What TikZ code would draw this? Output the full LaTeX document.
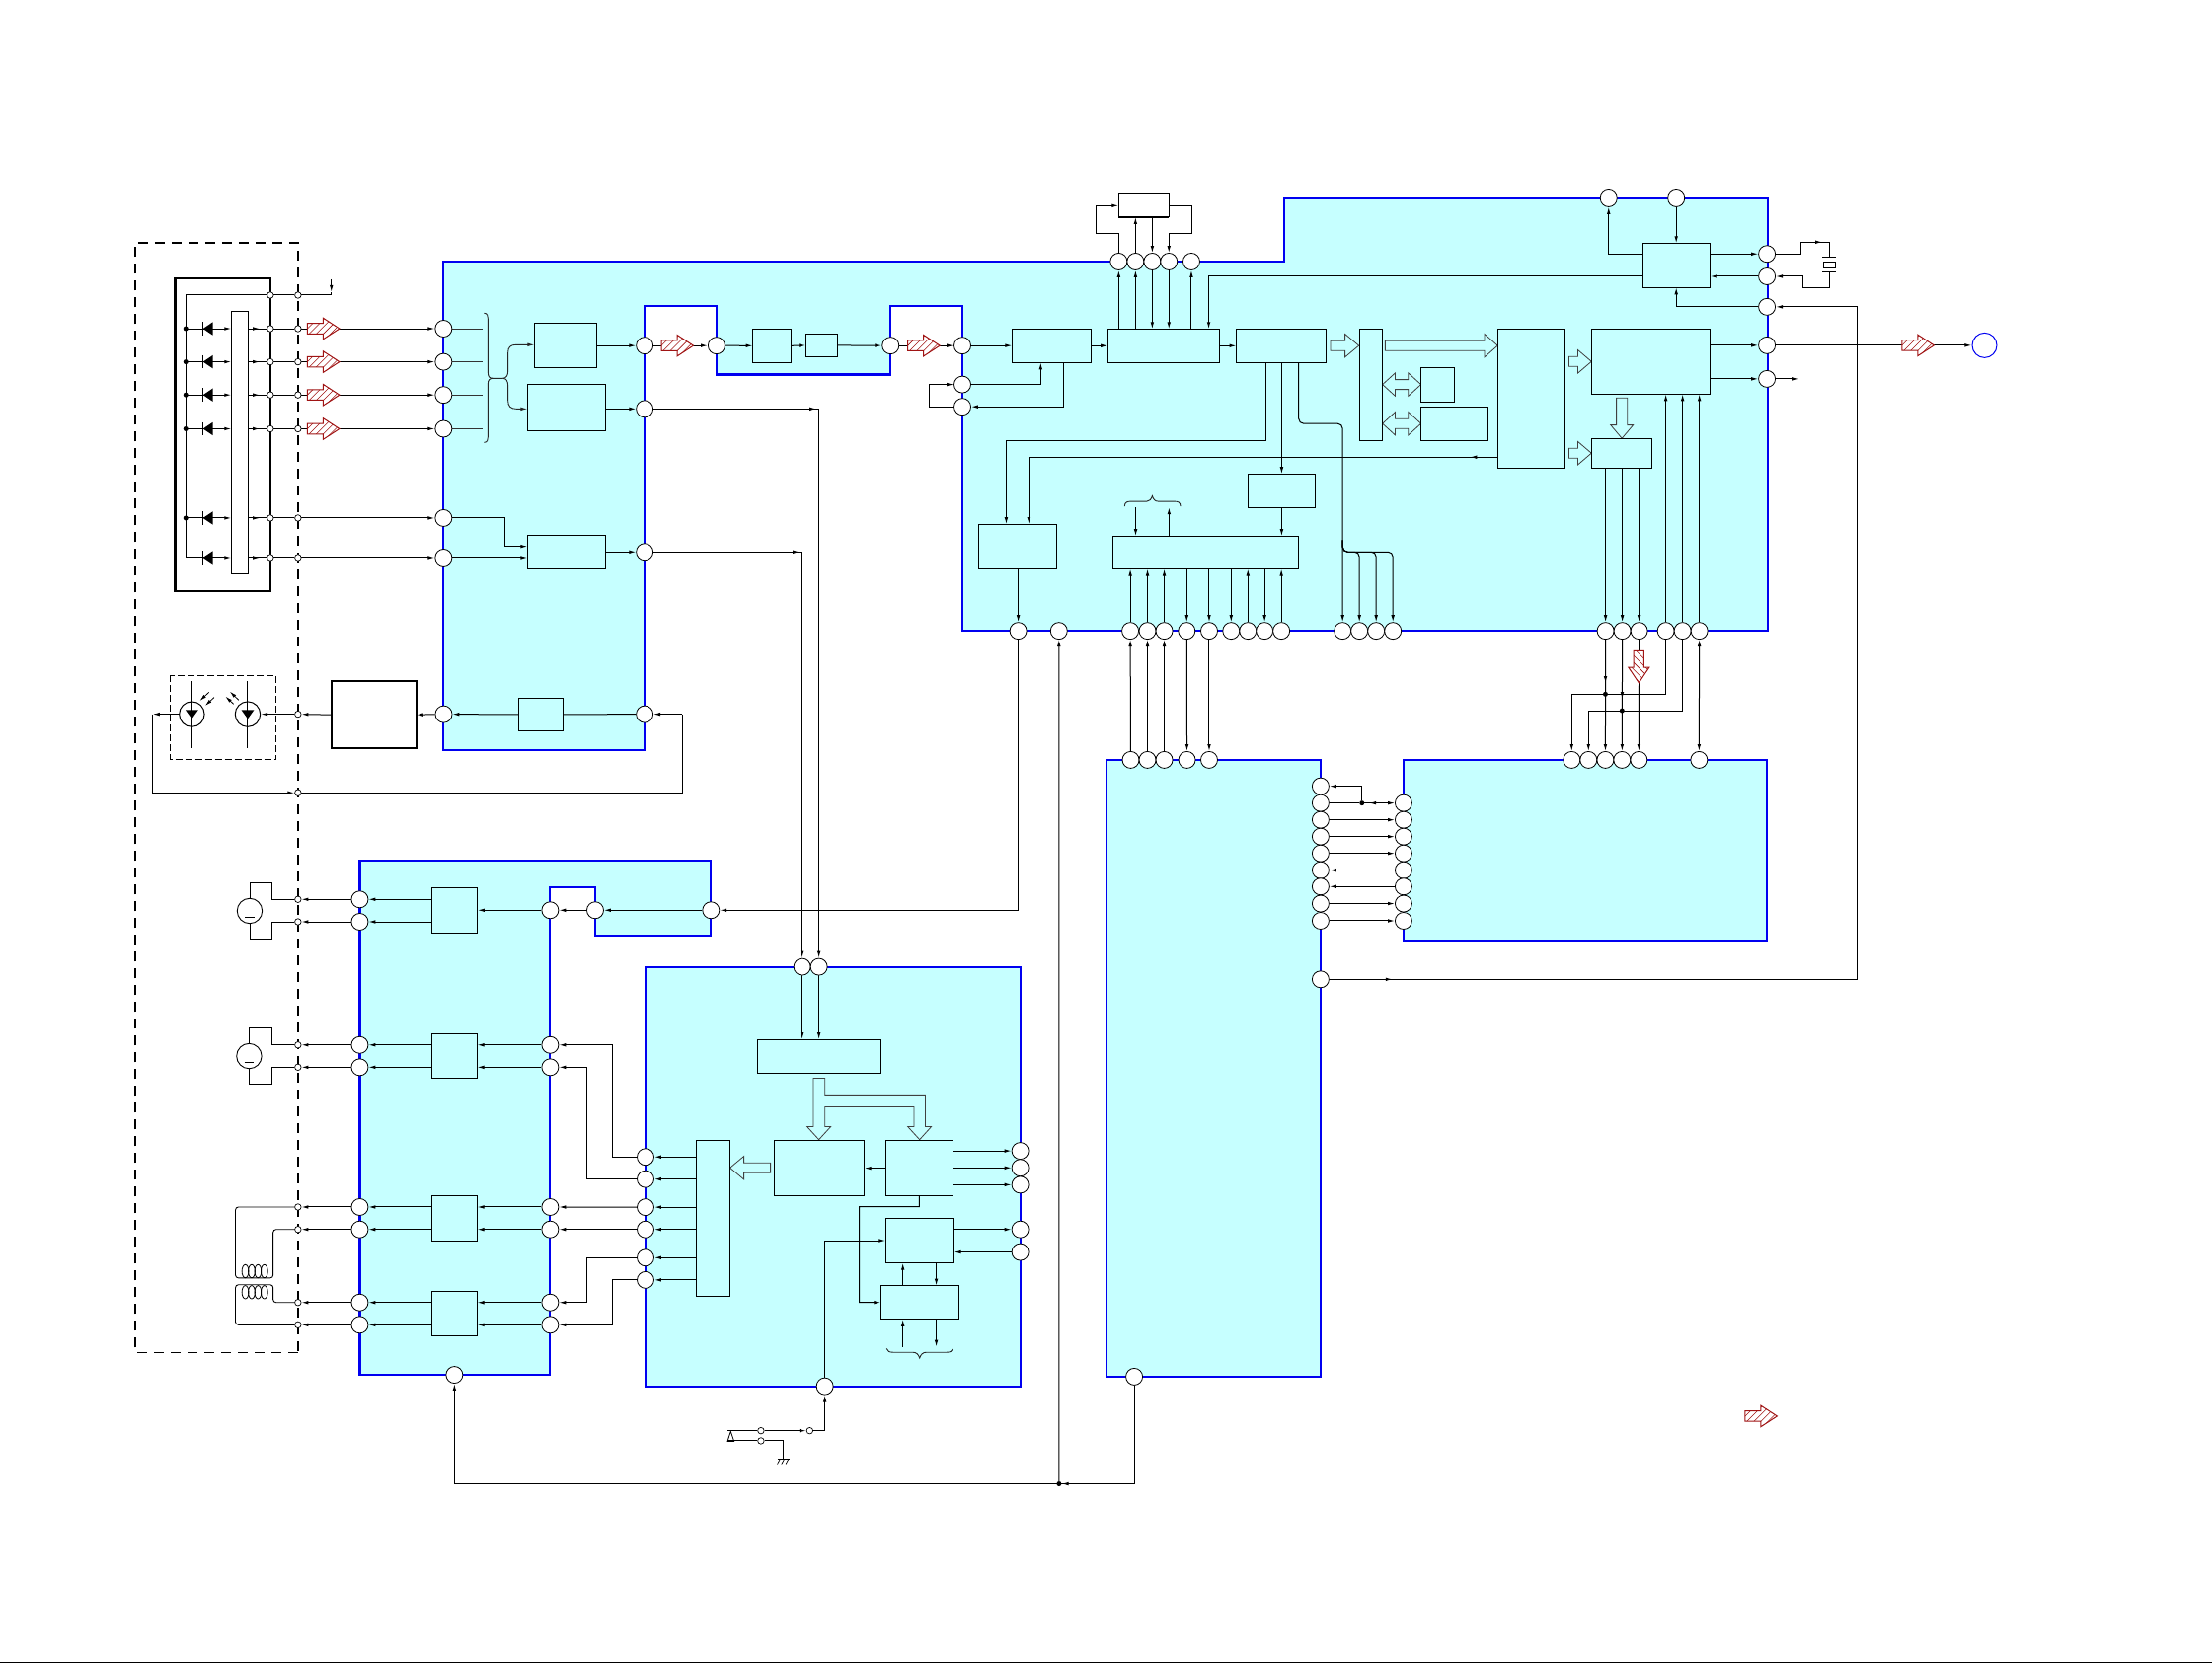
\documentclass[tikz,border=0pt]{standalone}
\usetikzlibrary{arrows.meta,decorations.markings,calc}
\pgfdeclarelayer{fg}\pgfsetlayers{main,fg}
\definecolor{cy}{HTML}{C6FFFF}
\definecolor{bl}{HTML}{0000F0}
\definecolor{rd}{HTML}{A01414}
\tikzset{
 x=1.4292pt,y=-1.4292pt,
 >={Latex[length=7pt,width=3.6pt]},
 wire/.style={line width=1pt,black},
 midarr/.style={postaction={decorate,decoration={markings,mark=at position #1 with {\arrow{>}}}}},
 pin/.style={circle,draw,fill=white,minimum size=17pt,inner sep=0pt,line width=.8pt},
 spin/.style={circle,draw,fill=white,minimum size=6.5pt,inner sep=0pt,line width=.7pt},
 dotn/.style={circle,fill=black,minimum size=5pt,inner sep=0pt},
 bx/.style={rectangle,draw,fill=cy,line width=1pt,inner sep=0pt,outer sep=0pt},
 wbx/.style={bx,fill=white},
 region/.style={draw=bl,fill=cy,line width=2.1pt,line join=miter},
 fat/.style={draw=black!75,fill=cy,line width=.8pt,line join=miter},
 dashbox/.style={line width=1.5pt,dash pattern=on 10pt off 7pt}
}
\newcommand\redR[2]{%
\begin{scope}[shift={(#1,#2)}]
\begin{scope}
\clip (0,-3.7)--(11.2,-3.7)--(11.2,-7.5)--(22.7,0)--(11.2,7.5)--(11.2,3.7)--(0,3.7)--cycle;
\fill[white] (-1,-9) rectangle (24,9);
\foreach \k in {-8,-3,...,22} \draw[rd,line width=.55pt] (\k,8)--(\k+16,-8);
\end{scope}
\draw[rd,line width=1pt,line join=miter] (0,-3.7)--(11.2,-3.7)--(11.2,-7.5)--(22.7,0)--(11.2,7.5)--(11.2,3.7)--(0,3.7)--cycle;
\end{scope}}
\newcommand\redD[2]{%
\begin{scope}[shift={(#1,#2)}]
\begin{scope}
\clip (-3.6,0)--(3.6,0)--(3.6,11.7)--(7.4,11.7)--(0,22.7)--(-7.4,11.7)--(-3.6,11.7)--(-3.6,0)--cycle;
\fill[white] (-9,-1) rectangle (9,24);
\foreach \k in {-8,-3,...,22} \draw[rd,line width=.55pt] (-8,\k-8)--(8,\k+8);
\end{scope}
\draw[rd,line width=1pt,line join=miter] (-3.6,0)--(3.6,0)--(3.6,11.7)--(7.4,11.7)--(0,22.7)--(-7.4,11.7)--(-3.6,11.7)--cycle;
\end{scope}}
% x1 head-start tip y
\newcommand\fatR[4]{\draw[fat] (#1,#4-3.5)--(#2,#4-3.5)--(#2,#4-8.2)--(#3,#4)--(#2,#4+8.2)--(#2,#4+3.5)--(#1,#4+3.5)--cycle;}
\newcommand\fatLR[3]{\draw[fat] (#1,#3)--(#1+9,#3-8.2)--(#1+9,#3-3.5)--(#2-9,#3-3.5)--(#2-9,#3-8.2)--(#2,#3)--(#2-9,#3+8.2)--(#2-9,#3+3.5)--(#1+9,#3+3.5)--(#1+9,#3+8.2)--cycle;}
\begin{document}
\begin{tikzpicture}
\useasboundingbox (0,0) rectangle (1568,1179);
\fill[white] (0,0) rectangle (1568,1179);
\draw[line width=1.5pt] (0,1178.7)--(1568,1178.7);
% regions
\draw[region] (314.4,185.2)--(910,185.2)--(910,140.8)--(1253,140.8)--(1253,447.2)--(682.2,447.2)--(682.2,217)--(631.3,217)--(631.3,265.5)--(508,265.5)--(508,217)--(457,217)--(457,532)--(314.4,532)--cycle;
\draw[region] (255,609.9)--(504,609.9)--(504,663.5)--(421.9,663.5)--(421.9,628.8)--(390,628.8)--(390,974.7)--(255,974.7)--cycle;
\draw[region] (457.6,685.4) rectangle (723.7,983.1);
\draw[region] (784.5,538.7) rectangle (936.1,976);
\draw[region] (994.9,538.7) rectangle (1252.6,667);
% dashed outline
\draw[dashbox] (211.2,959)--(96,959)--(96,172.1)--(211.2,172.1)--cycle;
\draw[line width=2.1pt] (124.2,197.3) rectangle (191.6,419.1);
\draw[line width=.9pt,dash pattern=on 7pt off 3pt] (120.8,478.8) rectangle (195.8,538.3);

\begin{pgfonlayer}{fg}
\foreach \n/\xa/\ya/\xb/\yb in {
 Ba/378.8/229/423/260.5,Bb/373.9/272.4/429.3/305.5,Bc/373.9/379.7/429.3/403.5,Bq/367.6/495/399.4/518,
 Bca/533.6/233.2/560.8/257,Bcb/571.2/236.7/593.7/253,Bda/717.4/233.2/773.3/257,Bdb/785.2/233.2/864.6/257,
 Bdc/876.4/233.2/939.9/257,Bdd/963.9/233.2/980/312.5,Bma/1007.3/260.5/1031.1/285.2,Bmb/1007.3/288.4/1054.9/312.5,
 Be/1061.6/233.2/1109.5/332,Bf/1128.1/233.2/1212.3/279.4,Bg/1128.1/310.8/1170.9/332,Bh/1164.8/172.3/1212.3/203.8,
 Bj/884.6/336/932.4/359.8,Bk/788.9/380.1/920.5/403.4,Bi/693.6/371.7/749/403.4,
 Bra/306.2/629.2/338.6/661.7,Brb/306.1/732.8/338.3/764.3,Brc/306.1/847.8/338.3/879.7,Brd/306.1/915.4/338.3/946.9,
 Bs/536.9/736.9/624.6/760.9,Bt/493.5/808.4/517.5/919.1,Bu/548.8/808.4/612.7/847.9,Bv/627.8/808.4/675.6/847.9,
 Bw/627.8/863.6/676.3/895.4,Bx/624.3/911.4/679.8/935.3}{
 \pgfmathsetmacro\ww{(\xb-\xa)*1.4292}\pgfmathsetmacro\hh{(\yb-\ya)*1.4292}
 \node[bx,minimum width=\ww pt,minimum height=\hh pt] (\n) at ({(\xa+\xb)/2},{(\ya+\yb)/2}) {};
}
\foreach \n/\xa/\ya/\xb/\yb/\lw in {
 Bbar/163.9/220.6/175.9/407/1,Bp/235.1/482.8/295.1/530.6/2.1,Btop/793/137.6/828.6/153.9/1}{
 \pgfmathsetmacro\ww{(\xb-\xa)*1.4292}\pgfmathsetmacro\hh{(\yb-\ya)*1.4292}
 \node[wbx,line width=\lw pt,minimum width=\ww pt,minimum height=\hh pt] (\n) at ({(\xa+\xb)/2},{(\ya+\yb)/2}) {};
}
\foreach \n/\xx/\yy in {
 o1/457/245,o2/457/289.9,o3/457/391.3,o4/457/506.3,pq/314.5/506.3,
 n1/507.9/245,n2/631.3/245,n3/682.2/245,n4/682.2/272.6,n5/682.2/288.4,
 t1/793/185.4,t2/804.9/185.4,t3/816.8/185.4,t4/828.6/185.4,t5/844.5/185.4,
 tra/1140.3/140.6,trb/1188.2/140.6,
 rra/1252.5/180,rrb/1252.5/195.9,rrc/1252.5/217.5,rrd/1252.5/244.8,rre/1252.5/268.6,
 qa/721.8/447.2,qb/750.6/447.2,qc/801.2/447.2,qd/813.4/447.2,qe/825.3/447.2,qf/841.2/447.2,qg/857.1/447.2,
 qh/872.7/447.2,qi/884.6/447.2,qj/896.4/447.2,qk/908.3/447.2,ql/951.7/447.2,qm/963.6/447.2,qn/975.5/447.2,qo/987.4/447.2,
 qp/1138.1/447.2,qq/1150/447.2,qr/1161.9/447.2,qs/1180.8/447.2,qt/1192.7/447.2,qu/1204.6/447.2,
 ma/801.5/538.7,mb/813.4/538.7,mc/825.3/538.7,md/841.4/538.7,me/857.1/538.7,
 na/1114.1/538.7,nb/1126/538.7,nc/1138/538.7,nd/1149.8/538.7,ne/1161.7/538.7,nf/1204.4/538.7,
 mra/936.1/557.4,mrb/936.1/569.3,mrc/936.1/581.2,mrd/936.1/593.1,mre/936.1/605,mrf/936.1/616.9,mrg/936.1/628.5,mrh/936.1/640.6,mri/936.1/652.8,
 nlb/994.9/569.3,nlc/994.9/581.2,nld/994.9/593.1,nle/994.9/605,nlf/994.9/616.9,nlg/994.9/628.5,nlh/994.9/640.6,nli/994.9/652.8,
 mrj/936.1/694.3,mbot/804/976,
 ga/255/637.6,gb/255/653.5,gc/390/645.3,gd/421.9/645.3,ge/504/645.3,
 gf/255/740.8,gg/255/756.6,gh/390/740.8,gi/390/756.6,
 gj/255/855.7,gk/255/871.6,gl/390/855.7,gm/390/871.6,
 gn/255/923.4,go/255/939.2,gp/390/923.4,gq/390/939.2,gbot/322.1/974.7,
 ha/568.6/685.4,hb/580.5/685.4,
 hc/457.6/820.2,hd/457.6/835.9,he/457.6/855.8,hf/457.6/871.6,hg/457.6/891.6,hh/457.6/907.4,
 hi/723.2/815.9,hj/723.2/827.9,hk/723.2/839.9,hl/723.2/871.6,hm/723.2/887.6,hn/584.7/982.8}{
 \node[pin] (\n) at (\xx,\yy) {};
}
\foreach \n/\xx/\yy in {
 sz/191.6/209.2,tz/211.2/209.2,sledin/211.2/506.3,sback/211.2/562,
 sga/211.2/637.6,sgb/211.2/653.5,sgc/211.2/740.8,sgd/211.2/756.6,
 sge/211.2/855.7,sgf/211.2/871.6,sgg/211.2/923.4,sgh/211.2/939.2,
 swa/539.4/1014.3,swb/539.4/1021.5,swc/574/1014.3}{
 \node[spin] (\n) at (\xx,\yy) {};
}
\node[pin,draw=bl,minimum size=25pt,line width=1pt] (outc) at (1406.7,244.8) {};
\node[dotn] (jun) at (750.7,1052) {};
\node[dotn] (dna) at (1138,492.1) {};
\node[dotn] (dnb) at (1149.8,503.8) {};
\node[dotn] (dnc) at (965.4,569.3) {};
\node[circle,draw,line width=1pt,minimum size=25.4pt,inner sep=0pt] (leda) at (136,506.3) {};
\node[circle,draw,line width=1pt,minimum size=25.4pt,inner sep=0pt] (ledb) at (175.6,506.3) {};
\node[circle,draw,line width=.9pt,minimum size=25.4pt,inner sep=0pt,fill=white] (mota) at (177,645.8) {};
\node[circle,draw,line width=.9pt,minimum size=25.4pt,inner sep=0pt,fill=white] (motb) at (176.6,748.7) {};
\end{pgfonlayer}

% sensor rows
\foreach \r/\yy in {a/233,b/256.5,c/280,d/304,e/367.3,f/395.3}{
 \begin{pgfonlayer}{fg}
 \node[spin] (s\r) at (191.6,\yy) {};
 \node[spin] (u\r) at (211.2,\yy) {};
 \node[pin] (p\r) at (314.4,\yy) {};
 \end{pgfonlayer}
 \coordinate (d\r) at (131.7,\yy);
 \draw[wire,->] (d\r) -- (d\r -| Bbar.west);
 \draw[wire,midarr=.62] (d\r -| Bbar.east) -- (s\r);
 \draw[wire] (s\r) -- (u\r);
 \draw[wire,->] (u\r) -- (p\r);
 \draw[line width=1pt] (143.9,\yy-4.7) -- (143.9,\yy+4.7);
 \fill (143.9,\yy) -- (150.9,\yy-4.7) -- (150.9,\yy+4.7) -- cycle;
}
\begin{pgfonlayer}{fg}
\foreach \r in {a,b,c,d,e}{\node[dotn] at (d\r) {};}
\end{pgfonlayer}
\draw[wire] (sz) -- (131.7,209.2) -- (df);
\draw[wire] (sz) -- (tz);
\coordinate (tza) at (234.9,209.2);\coordinate (tzb) at (234.9,198);\coordinate (tzc) at (234.9,207);
\draw[wire] (tz) -- (tza);
\draw[wire,->] (tzb) -- (tzc);
\draw[wire] (tzc) -- (tza);
\foreach \r/\yy in {a/233,b/256.5,c/280,d/304}{
 \coordinate (br\r) at (342,\yy);
 \draw[line width=.9pt,black!80] (p\r) -- (br\r);
}
% brace
\draw[line width=.9pt,black!85] (343.1,222) .. controls (345.5,222) and (345.9,224) .. (345.9,226) -- (345.9,264) .. controls (345.9,267) and (347,268.2) .. (349.3,268.2);
\draw[line width=.9pt,black!85] (343.1,313.7) .. controls (345.5,313.7) and (345.9,311.7) .. (345.9,309.7) -- (345.9,272) .. controls (345.9,269.5) and (347,268.2) .. (349.3,268.2) -- (356.4,268.2);
\draw[line width=.9pt,black!85,->] (356.4,268.2) .. controls (359,268.2) and (360.1,266) .. (360.1,263) -- (360.1,250) .. controls (360.1,246) and (362,244.4) .. (366,244.4) -- (Ba.west |- 0,244.4);
\draw[line width=.9pt,black!85,->] (356.4,268.2) .. controls (359,268.2) and (360.1,270.5) .. (360.1,273.5) -- (360.1,284) .. controls (360.1,288) and (362,289.9) .. (366,289.9) -- (Bb.west |- 0,289.9);
\draw[wire,->] (Ba.east |- o1) -- (o1);
\draw[wire,->] (Bb.east |- o2) -- (o2);
\draw[wire,->] (Bc.east |- o3) -- (o3);
\coordinate (bend) at (358.1,387.4);
\draw[wire,->] (pe) -| (bend) -- (Bc.west |- bend);
\draw[wire,->] (pf) -- (Bc.west |- pf);
% main chain
\draw[wire,->] (o1) -- (n1);
\draw[wire,->] (n1) -- (Bca.west);
\draw[wire,->] (Bca.east) -- (Bcb.west);
\draw[wire,->] (Bcb.east) -- (n2);
\draw[wire,->] (n2) -- (n3);
\draw[wire,->] (n3) -- (Bda.west |- n3);
\draw[wire,->] (Bda.east) -- (Bdb.west);
\draw[wire,->] (Bdb.east) -- (Bdc.west);
\coordinate (dfa) at (737.7,257);\coordinate (dfb) at (754,257);
\draw[wire,->] (n4) -| (dfa);
\draw[wire,->] (dfb) |- (n5);
\coordinate (lp) at (658.7,280);
\draw[wire,->] (n5) -| (lp) |- (n4);
% top box
\draw[line width=2.2pt] (Btop.north west) -- (Btop.north east);
\draw[line width=2.2pt] (Btop.south west) -- (Btop.south east);
\coordinate (ka) at (777.1,165.5);\coordinate (kb) at (844.9,165.5);
\draw[wire,->] (t1) |- (ka) |- (Btop.west);
\draw[wire,->] (t2) -- (t2 |- Btop.south);
\draw[wire,->] (t3 |- Btop.south) -- (t3);
\draw[wire,->] (Btop.east) -| (kb) -| (t4);
\foreach \p in {t1,t2,t5}{\draw[wire,->] (\p |- Bdb.north) -- (\p);}
\foreach \p in {t3,t4}{\draw[wire,->] (\p) -- (\p |- Bdb.north);}
% H block
\coordinate (hx) at (856.8,233.2);
\draw[wire,->] (Bh.west |- rra) -| (tra);
\draw[wire,->] (trb) -- (trb |- Bh.north);
\draw[wire,->] (Bh.east |- rra) -- (rra);
\draw[wire,->] (rrb) -- (rrb -| Bh.east);
\draw[wire,->] (Bh.west |- rrb) -| (hx);
\draw[wire,->] (rrc) -| (trb |- Bh.south);
% crystal
\coordinate (xa) at (1296.8,182.6);\coordinate (xb) at (1296.8,192.8);
\draw[wire,midarr=.72] (rra) -| (1276.6,171.6) -- (xa |- 0,171.6) -- (xa);
\draw[wire,->] (xb) -- (xb |- 0,203.8) -- (1278.2,203.8) -- (1278.2,195.9) -- (rrb);
\draw[line width=1pt] (1291.7,182.6)--(1301.3,182.6);
\draw[line width=1pt] (1291.7,192.8)--(1301.3,192.8);
\draw[line width=.9pt] (1292.6,185.6) rectangle (1301,189.8);
% long return
\draw[wire,->,midarr=64pt] (mrj) -- (1316.4,694.3) -- (1316.4,217.5) -- (rrc);
% outputs
\draw[wire,->] (Bf.east |- rrd) -- (rrd);
\draw[wire,->] (rrd) -- (outc);
\draw[wire,->] (Bf.east |- rre) -- (rre);
\coordinate (rrx) at (1275.6,268.6);
\draw[wire,->] (rre) -- (rrx);
% D3 branches
\coordinate (aa) at (897.5,257);\coordinate (ab) at (713.3,371.7);
\draw[wire,->] (aa) -- (897.5,312.2) -- (713.3,312.2) -- (ab);
\coordinate (ac) at (1061.6,324.1);\coordinate (ad) at (729.3,371.7);
\draw[wire,->,midarr=28pt] (ac) -- (729.3,324.1) -- (ad);
\draw[wire,->] (Bj.north |- Bdc.south) -- (Bj.north);
\draw[wire,->] (Bj.south) -- (Bj.south |- Bk.north);
\coordinate (ae) at (920.6,257);
\draw[wire,->,rounded corners=5pt] (ae) -- (920.6,300.3) -- (951.7,300.3) -- (ql);
\coordinate (af) at (951.7,383);
\foreach \p in {qm,qn,qo}{\draw[wire,->,rounded corners=5pt] (af) |- (\p |- 0,391.3) -- (\p);}
% brace above K
\draw[line width=.9pt,black!85] (797.2,359) .. controls (797.2,356) and (799,355.5) .. (802,355.5) -- (813,355.5) .. controls (815,355.5) and (816,354) .. (816.8,351.6) .. controls (817.6,354) and (818.6,355.5) .. (821,355.5) -- (832,355.5) .. controls (835,355.5) and (836.8,356) .. (836.8,359);
\coordinate (ba) at (805,359.8);\coordinate (bb) at (828.7,359.8);
\draw[wire,->] (ba) -- (ba |- Bk.north);
\draw[wire,->] (bb |- Bk.north) -- (bb);
\draw[wire,->] (Bi.south -| qa) -- (qa);
\foreach \p in {qc,qd,qe,qi,qk}{\draw[wire,->] (\p) -- (\p |- Bk.south);}
\foreach \p in {qf,qg,qh,qj}{\draw[wire,->] (\p |- Bk.south) -- (\p);}
\foreach \p in {qp,qq,qr}{\draw[wire,->] (\p |- Bg.south) -- (\p);}
\foreach \p in {qs,qt,qu}{\draw[wire,->] (\p) -- (\p |- Bf.south);}
% links lower
\draw[wire,->] (ma) -- (qc);
\draw[wire,->] (mb) -- (qd);
\draw[wire,->] (mc) -- (qe);
\draw[wire,->] (qf) -- (md);
\draw[wire,->] (qg) -- (me);
\draw[wire,->,midarr=44pt] (qp) -- (nc);
\draw[wire,->,midarr=60pt] (qq) -- (nd);
\draw[wire,->] (qr) -- (ne);
\draw[wire,<->] (qu) -- (nf);
\draw[wire,->] (qs) -- (qs |- dna) -- (na |- dna) -- (na);
\draw[wire,->] (qt) -- (qt |- dnb) -- (nb |- dnb) -- (nb);
% M-N
\draw[wire] (mrb) -- (dnc);
\draw[wire,<-,midarr=.85] (nlb) -- (dnc);
\draw[wire,->] (dnc) |- (mra);
\foreach \a/\b in {mrc/nlc,mrd/nld,mre/nle,mrh/nlh,mri/nli}{\draw[wire,->] (\a) -- (\b);}
\foreach \a/\b in {nlf/mrf,nlg/mrg}{\draw[wire,->] (\a) -- (\b);}
% bottom bus
\draw[wire,->] (mbot) |- (jun.center) -- (gbot |- jun) -- (gbot);
\draw[wire,->] (jun) -- (qb);
\coordinate (juh) at (757,1052);
\draw[wire,->] (juh) -- (jun);
% to driver 1
\draw[wire,->] (qa) |- (ge);
\draw[wire,->] (ge) -- (gd);
\draw[wire,->] (gd) -- (gc);
\draw[wire,->] (gc) -- (gc -| Bra.east);
\draw[wire,->] (Bra.west |- ga) -- (ga);
\draw[wire,->] (Bra.west |- gb) -- (gb);
\draw[wire,->] (ga) -- (sga);
\draw[wire,->] (gb) -- (sgb);
\foreach \a/\b/\c in {gf/gh/Brb,gg/gi/Brb,gj/gl/Brc,gk/gm/Brc,gn/gp/Brd,go/gq/Brd}{
 \draw[wire,->] (\b) -- (\b -| \c.east);
 \draw[wire,->] (\c.west |- \a) -- (\a);
}
\foreach \a/\b in {gf/sgc,gg/sgd,gj/sge,gk/sgf,gn/sgg,go/sgh}{\draw[wire,->] (\a) -- (\b);}
% to driver inputs
\coordinate (cxa) at (434,800);\coordinate (cxb) at (416,800);
\draw[wire,->] (hc) -| (cxa |- gh) -- (gh);
\draw[wire,->] (hd) -| (cxb |- gi) -- (gi);
\draw[wire,->] (he) -- (gl);
\draw[wire,->] (hf) -- (gm);
\draw[wire,->] (hg) -| (cxb |- gp) -- (gp);
\draw[wire,->] (hh) -| (cxa |- gq) -- (gq);
\foreach \p in {hc,hd,he,hf,hg,hh}{\draw[wire,->] (Bt.west |- \p) -- (\p);}
% DSP to block3
\draw[wire,->,midarr=148pt] (o3) -| (ha);
\draw[wire,->,midarr=165pt] (o2) -| (hb);
\draw[wire,->] (ha) -- (ha |- Bs.north);
\draw[wire,->] (hb) -- (hb |- Bs.north);
\draw[wire,->] (Bv.west) -- (Bu.east);
\foreach \p in {hi,hj,hk}{\draw[wire,->] (Bv.east |- \p) -- (\p);}
\draw[wire,->] (Bw.east |- hl) -- (hl);
\draw[wire,->] (hm) -- (hm -| Bw.east);
\draw[wire,->] (Bv.south) -- ++(0,7.5) -- (609.2,855.4) -- (609.2,923.35) -- (Bx.west);
\draw[wire,->] (hn) |- (Bw.west);
\coordinate (cwa) at (640,900);\coordinate (cwb) at (663.7,900);
\draw[wire,->] (cwa |- Bx.north) -- (cwa |- Bw.south);
\draw[wire,->] (cwb |- Bw.south) -- (cwb |- Bx.north);
\coordinate (cwc) at (640,954.8);\coordinate (cwd) at (663.7,954.8);
\draw[wire,->] (cwc) -- (cwc |- Bx.south);
\draw[wire,->] (cwd |- Bx.south) -- (cwd);
\draw[line width=.9pt,black!85] (628.5,956.1) .. controls (629,958) and (630.5,958.7) .. (633,958.7) -- (647,958.7) .. controls (649.5,958.7) and (651,960) .. (651.9,962.8) .. controls (652.8,960) and (654.3,958.7) .. (656.8,958.7) -- (671,958.7) .. controls (673.5,958.7) and (675,958) .. (675.6,956.1);
% switch
\coordinate (swl) at (515.7,1014.3);\coordinate (swm) at (515.7,1021.5);\coordinate (gnd) at (555.1,1034.3);
\draw[wire] (swl) -- (swa);
\draw[wire] (swm) -- (swb);
\draw[wire,->] (swa) -- (swc);
\draw[wire,->] (swc) -| (hn);
\draw[wire] (swb) -| (gnd);
\draw[line width=.8pt] (515.7,1021.8)--(518,1014.8)--(520.3,1021.8)--cycle;
\draw[line width=.9pt] (551.3,1034.3)--(559.7,1034.3);
\foreach \k in {553,556,559}{\draw[line width=.7pt] (\k,1034.3)--(\k-2,1038);}
% IR link
\coordinate (cr) at (483.8,506.3);\coordinate (crb) at (483.8,562);\coordinate (cl) at (108.3,506.3);\coordinate (clb) at (108.3,562);
\draw[wire,->] (cr) -- (o4);
\draw[wire] (o4) -- (Bq.east);
\draw[wire,->] (Bq.west) -- (pq);
\draw[wire,->] (pq) -- (Bp.east);
\draw[wire,->] (Bp.west) -- (sledin);
\draw[wire,->] (sledin) -- (ledb);
\draw[wire,->] (leda) -- (cl);
\draw[wire,->] (cl) -- (clb) -- (sback);
\draw[wire] (sback) -- (crb) -- (cr);
\foreach \xx in {136,175.6}{
 \draw[line width=1pt] (\xx,482.8)--(\xx,530.1);
 \draw[line width=1pt] (\xx-5,509.6)--(\xx+5,509.6);
 \fill (\xx-4.5,503.3)--(\xx+4.5,503.3)--(\xx,509.6)--cycle;
}
\draw[line width=.8pt,->] (148.2,490.7)--(141.6,496.8);
\draw[line width=.8pt,->] (151.8,494.4)--(145.4,500.3);
\draw[line width=.8pt,->] (165.6,499.1)--(159.8,493.7);
\draw[line width=.8pt,->] (169.2,496.3)--(162.9,490.2);
% motors
\draw[line width=.9pt] (mota.north) -- (177,625.7) -- (193,625.7) -- (193,637.6) -- (sga);
\draw[line width=.9pt] (mota.south) -- (177,665.8) -- (193,665.8) -- (193,653.5) -- (sgb);
\draw[line width=.9pt] (motb.north) -- (176.6,728.9) -- (192.6,728.9) -- (192.6,740.8) -- (sgc);
\draw[line width=.9pt] (motb.south) -- (176.6,768.5) -- (192.6,768.5) -- (192.6,756.6) -- (sgd);
\begin{pgfonlayer}{fg}
\draw[line width=.9pt] (173.7,650.2)--(180.3,650.2);
\draw[line width=.9pt] (173.3,753.1)--(179.9,753.1);
\end{pgfonlayer}
% coils
\draw[line width=.9pt,rounded corners=3pt] (sge) -- (166.9,855.7) -- (166.9,906) -- (193.6,906) -- (193.6,871.6) -- (sgf);
\draw[line width=.9pt,rounded corners=3pt] (sgh) -- (166.9,939.2) -- (166.9,910.8) -- (193.6,910.8) -- (193.6,923.4) -- (sgg);
\foreach \xx in {173.9,178.4,182.9,187.4}{
 \draw[line width=.8pt] (\xx,901.2) ellipse [x radius=2.4,y radius=4.7];
 \draw[line width=.8pt] (\xx,916.1) ellipse [x radius=2.4,y radius=4.7];
}
% fat arrows
\fatR{943.2}{953.4}{963.2}{245}
\fatR{981.9}{1052.3}{1061.6}{245}
\fatR{1112.1}{1118.5}{1128.1}{256.3}
\fatR{1112.1}{1118.5}{1128.1}{321.3}
\fatLR{980}{1007.3}{272.6}
\fatLR{980}{1007.3}{300.3}
\draw[fat] (1145.8,282.1)--(1153.6,282.1)--(1153.6,301.3)--(1157.7,301.3)--(1149.7,310.8)--(1141.7,301.3)--(1145.8,301.3)--cycle;
\draw[fat] (517.5,827.9)--(527.3,819.7)--(527.3,824.4)--(546.2,824.4)--(546.2,831.4)--(527.3,831.4)--(527.3,836.1)--cycle;
\draw[fat] (576.5,764.4)--(584.7,764.4)--(584.7,776.2)--(656,776.2)--(656,798.7)--(660.2,798.7)--(651.9,807.9)--(643.5,798.7)--(647.9,798.7)--(647.9,784.7)--(584.7,784.7)--(584.7,798.7)--(588.9,798.7)--(580.5,807.9)--(572.1,798.7)--(576.5,798.7)--cycle;
% red arrows
\foreach \yy in {233,256.5,280,304}{\redR{217.9}{\yy}}
\redR{468.8}{245}
\redR{643.5}{245}
\redR{1348.2}{244.8}
\redR{1237}{1004}
\redD{1161.7}{461.3}
\end{tikzpicture}
\end{document}
